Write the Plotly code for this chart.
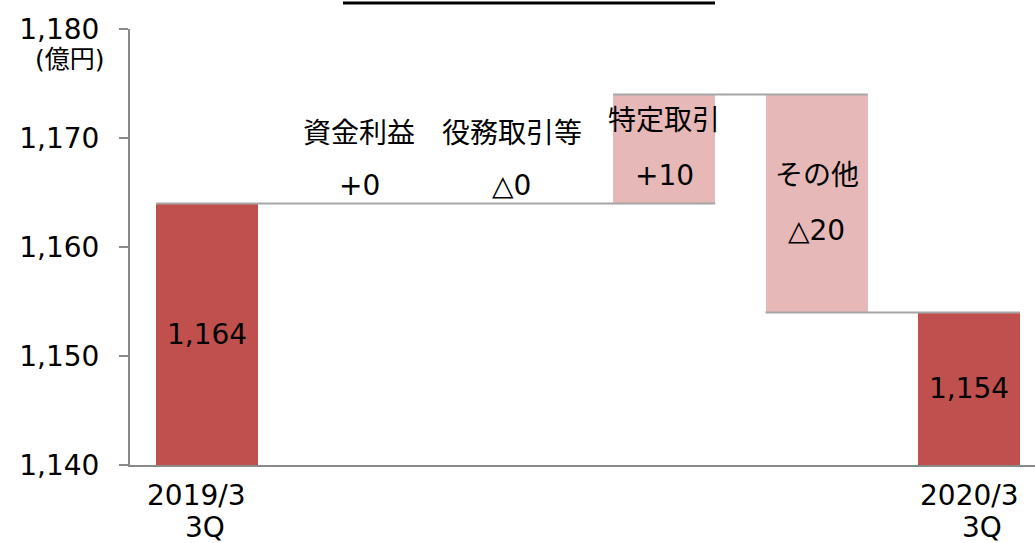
import plotly.graph_objects as go

# ---- data ----
categories = ["2019/3<br>3Q", "資金利益", "役務取引等", "特定取引", "その他", "2020/3<br>3Q"]
start_value = 1164
changes = [0, 0, 10, -20]
end_value = 1154
change_labels = ["+0", "△0", "+10", "△20"]
value_labels = ["1,164", "1,154"]
y_ticks = [1140, 1150, 1160, 1170, 1180]
y_ticktext = ["1,140", "1,150", "1,160", "1,170", "1,180"]

# ---- derived ----
DARK = "#C0504D"
LIGHT = "#E6B9B8"
GREY = "#A6A6A6"
AX = "#898989"
FONT = "DejaVu Sans, Noto Sans CJK JP, sans-serif"
FS = 28
BW = 0.67
n = len(categories)
xs = list(range(n))

bases, tops = [], []
level = start_value
bases.append(1140); tops.append(start_value)
for c in changes:
    new = level + c
    bases.append(min(level, new)); tops.append(max(level, new))
    level = new
bases.append(1140); tops.append(end_value)

colors = [DARK] + [LIGHT] * len(changes) + [DARK]

fig = go.Figure()
fig.add_trace(go.Bar(
    x=xs, y=[t - b for t, b in zip(tops, bases)], base=bases,
    width=BW, marker=dict(color=colors, line=dict(width=0)),
    hoverinfo="skip", showlegend=False,
))

# connector lines: each level spans from first to last bar touching it
levels = [start_value]
lv = start_value
for c in changes:
    lv += c
    levels.append(lv)
levels.append(end_value)
seen = {}
for i, l in enumerate(levels):
    touching = [i]
    if i + 1 < n:
        touching.append(i + 1)
    seen.setdefault(l, []).extend(touching)
for l, idx in seen.items():
    fig.add_trace(go.Scatter(
        x=[min(idx) - BW / 2, max(idx) + BW / 2], y=[l, l], mode="lines",
        line=dict(color=GREY, width=2), hoverinfo="skip", showlegend=False,
    ))

annos = []
# values inside total bars
annos.append(dict(x=0, y=(bases[0] + tops[0]) / 2, text=value_labels[0]))
annos.append(dict(x=n - 1, y=(bases[-1] + tops[-1]) / 2, text=value_labels[1]))
# change labels
name_y = [1170.45, 1170.45, 1171.6, 1166.6]
val_y = [1165.6, 1165.6, 1166.6, 1161.55]
for k in range(len(changes)):
    annos.append(dict(x=k + 1, y=name_y[k], text=categories[k + 1]))
    annos.append(dict(x=k + 1, y=val_y[k], text=change_labels[k]))
for a in annos:
    a.update(xref="x", yref="y", showarrow=False, font=dict(size=FS, color="black", family=FONT))

# x tick labels (two lines each, slight per-line offsets as in the original)
line_shifts = {0: (-10, -2), n - 1: (0, 13)}
for xi in (0, n - 1):
    for j, part in enumerate(categories[xi].split("<br>")):
        annos.append(dict(xref="x", yref="paper", x=xi, y=-0.069 - j * 0.074, text=part,
                          showarrow=False, xanchor="center", yanchor="middle",
                          xshift=line_shifts[xi][j],
                          font=dict(size=FS, color="black", family=FONT)))

annos.append(dict(xref="paper", yref="paper", x=-0.066, y=0.93, text="(億円)", showarrow=False,
                  xanchor="center", yanchor="middle", font=dict(size=25, color="black", family=FONT)))

fig.update_layout(
    width=1035, height=543,
    margin=dict(l=130, r=0, t=29, b=78),
    paper_bgcolor="white", plot_bgcolor="white",
    font=dict(family=FONT, size=FS, color="black"),
    bargap=0,
    annotations=annos,
    shapes=[dict(type="line", xref="paper", yref="paper", x0=(343 - 130) / 905, x1=(715 - 130) / 905,
                 y0=1.0596, y1=1.0596, line=dict(color="black", width=3))],
)
fig.update_xaxes(
    range=[-0.505, 5.433], tickvals=[0, n - 1], showticklabels=False,
    showline=True, linecolor=AX, linewidth=2, showgrid=False, zeroline=False,
    ticks="", fixedrange=True,
)
fig.update_yaxes(
    range=[1140, 1180], tickvals=y_ticks, ticktext=y_ticktext,
    showline=True, linecolor=AX, linewidth=2, showgrid=False, zeroline=False,
    ticks="outside", ticklen=9, tickcolor=AX, tickwidth=2, tickfont=dict(size=FS),
    ticklabelstandoff=14, fixedrange=True,
)
fig.write_html("out.html", config={"displayModeBar": False},
               post_script="document.body.style.margin='0';")
